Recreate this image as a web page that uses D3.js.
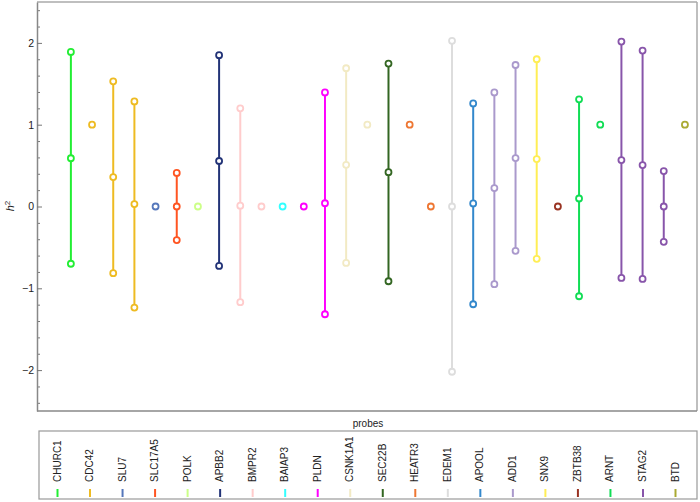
<!DOCTYPE html>
<html>
<head>
<meta charset="utf-8">
<script src="https://cdn.jsdelivr.net/npm/d3@7"></script>
<style>
  html, body { margin: 0; padding: 0; background: #fff; }
  svg { display: block; font-family: "Liberation Sans", Arial, sans-serif; }
</style>
</head>
<body>
<svg id="chart" width="700" height="502"></svg>
<script>
// Legend entries (probes) and their colours
const probes = ["CHURC1","CDC42","SLU7","SLC17A5","POLK","APBB2","BMPR2","BAIAP3","PLDN","CSNK1A1",
                "SEC22B","HEATR3","EDEM1","APOOL","ADD1","SNX9","ZBTB38","ARNT","STAG2","BTD"];
const probeColors = ["#22ee33","#eebb22","#5577bb","#ff5522","#ccff88","#223377","#ffcccc","#33ffff","#ff00ff","#f2eac4",
                     "#336622","#ee7733","#dddddd","#3388cc","#aa99cc","#ffee55","#993322","#11dd55","#8855aa","#aaaa33"];

// One entry per column along the x axis: which probe it belongs to, and its h² values
const columnProbe = ["CHURC1","CDC42","CDC42","CDC42","SLU7","SLC17A5","POLK","APBB2","BMPR2","BMPR2",
                     "BAIAP3","PLDN","PLDN","CSNK1A1","CSNK1A1","SEC22B","HEATR3","HEATR3","EDEM1","APOOL",
                     "ADD1","ADD1","SNX9","ZBTB38","ARNT","ARNT","STAG2","STAG2","STAG2","BTD"];
const columnValues = [
  [1.89, 0.59, -0.70],
  [1.0],
  [1.53, 0.36, -0.815],
  [1.285, 0.03, -1.236],
  [0.0],
  [0.41, 0.0, -0.41],
  [0.0],
  [1.85, 0.556, -0.726],
  [1.2, 0.01, -1.17],
  [0.0],
  [0.0],
  [0.0],
  [1.395, 0.04, -1.317],
  [1.69, 0.51, -0.69],
  [1.0],
  [1.747, 0.42, -0.914],
  [1.0],
  [0.0],
  [2.025, 0.0, -2.02],
  [1.26, 0.037, -1.195],
  [1.395, 0.225, -0.95],
  [1.73, 0.592, -0.542],
  [1.80, 0.58, -0.64],
  [0.0],
  [1.31, 0.098, -1.097],
  [1.0],
  [2.016, 0.568, -0.873],
  [1.906, 0.507, -0.885],
  [0.433, 0.0, -0.432],
  [1.0]
];
const yMajorTicks = [-2, -1, 0, 1, 2];
const yLabel = "h";
const xLabel = "probes";

const svg = d3.select("#chart");
const color = d3.scaleOrdinal().domain(probes).range(probeColors);

const pL = 37, pR = 697, pT = 2, pB = 411;
const x = d3.scaleLinear().domain([-0.6, 30.57]).range([pL, pR]);
const y = d3.scaleLinear().domain([-2.5, 2.5]).range([pB, pT]);

// frame (top / right lighter)
svg.append("line").attr("x1", pL).attr("x2", pR).attr("y1", pT).attr("y2", pT)
  .attr("stroke", "#aaa").attr("stroke-width", 1.5);
svg.append("line").attr("x1", pR).attr("x2", pR).attr("y1", pT).attr("y2", pB)
  .attr("stroke", "#aaa").attr("stroke-width", 1.5);

// minor ticks
const minorVals = d3.range(-2.4, 2.41, 0.2).map(v => +v.toFixed(1)).filter(v => !yMajorTicks.includes(v));
svg.append("g").attr("transform", `translate(${pL},0)`)
  .call(d3.axisLeft(y).tickValues(minorVals).tickSize(-3).tickFormat(""))
  .call(g => g.select(".domain").remove())
  .call(g => g.selectAll("line").attr("stroke", "#777"));

// major ticks + labels
svg.append("g").attr("transform", `translate(${pL},0)`)
  .call(d3.axisLeft(y).tickValues(yMajorTicks).tickFormat(d3.format("d"))
          .tickSizeInner(-5).tickSizeOuter(0).tickPadding(3))
  .call(g => g.select(".domain").attr("stroke", "#888").attr("stroke-width", 1.5))
  .call(g => g.selectAll("line").attr("stroke", "#777"))
  .call(g => g.selectAll("text").attr("font-size", 10.5).attr("fill", "#222")
              .attr("font-family", "'Liberation Sans', Arial, sans-serif"));

// bottom axis line
svg.append("line").attr("x1", pL).attr("x2", pR).attr("y1", pB).attr("y2", pB)
  .attr("stroke", "#888").attr("stroke-width", 1.5);

// data
const cols = columnValues.map((vals, i) => ({ idx: i + 1, probe: columnProbe[i], vals }));
const g = svg.append("g");
g.selectAll("line.stem").data(cols.filter(c => c.vals.length > 1)).join("line")
  .attr("class", "stem")
  .attr("x1", c => x(c.idx)).attr("x2", c => x(c.idx))
  .attr("y1", c => y(d3.max(c.vals))).attr("y2", c => y(d3.min(c.vals)))
  .attr("stroke", c => color(c.probe)).attr("stroke-width", 2);
g.selectAll("circle").data(cols.flatMap(c => c.vals.map(v => ({ idx: c.idx, probe: c.probe, v })))).join("circle")
  .attr("cx", d => x(d.idx)).attr("cy", d => y(d.v)).attr("r", 3)
  .attr("fill", "#fff").attr("stroke", d => color(d.probe)).attr("stroke-width", 1.8);

// y label h²
const yl = svg.append("text").attr("transform", "translate(14,206) rotate(-90)")
  .attr("text-anchor", "middle").attr("font-size", 11).attr("fill", "#222");
yl.append("tspan").attr("font-style", "italic").text(yLabel);
yl.append("tspan").attr("font-size", 8).attr("dy", -4).text("2");

// x label
svg.append("text").attr("x", 368).attr("y", 427).attr("text-anchor", "middle")
  .attr("font-size", 10).attr("fill", "#222").text(xLabel);

// legend
svg.append("rect").attr("x", 39).attr("y", 431).attr("width", 658).attr("height", 68)
  .attr("fill", "none").attr("stroke", "#999").attr("stroke-width", 1.2);
const lx = d3.scalePoint().domain(probes).range([57, 675]);
const items = svg.append("g").selectAll("g").data(probes).join("g");
items.append("text")
  .attr("transform", d => `translate(${lx(d)},482) rotate(-90)`)
  .attr("dy", "0.35em").attr("font-size", 10).attr("fill", "#222").text(d => d);
items.append("line")
  .attr("x1", d => lx(d) + 0.5).attr("x2", d => lx(d) + 0.5)
  .attr("y1", 489).attr("y2", 497)
  .attr("stroke", d => color(d)).attr("stroke-width", 2);
</script>
</body>
</html>
